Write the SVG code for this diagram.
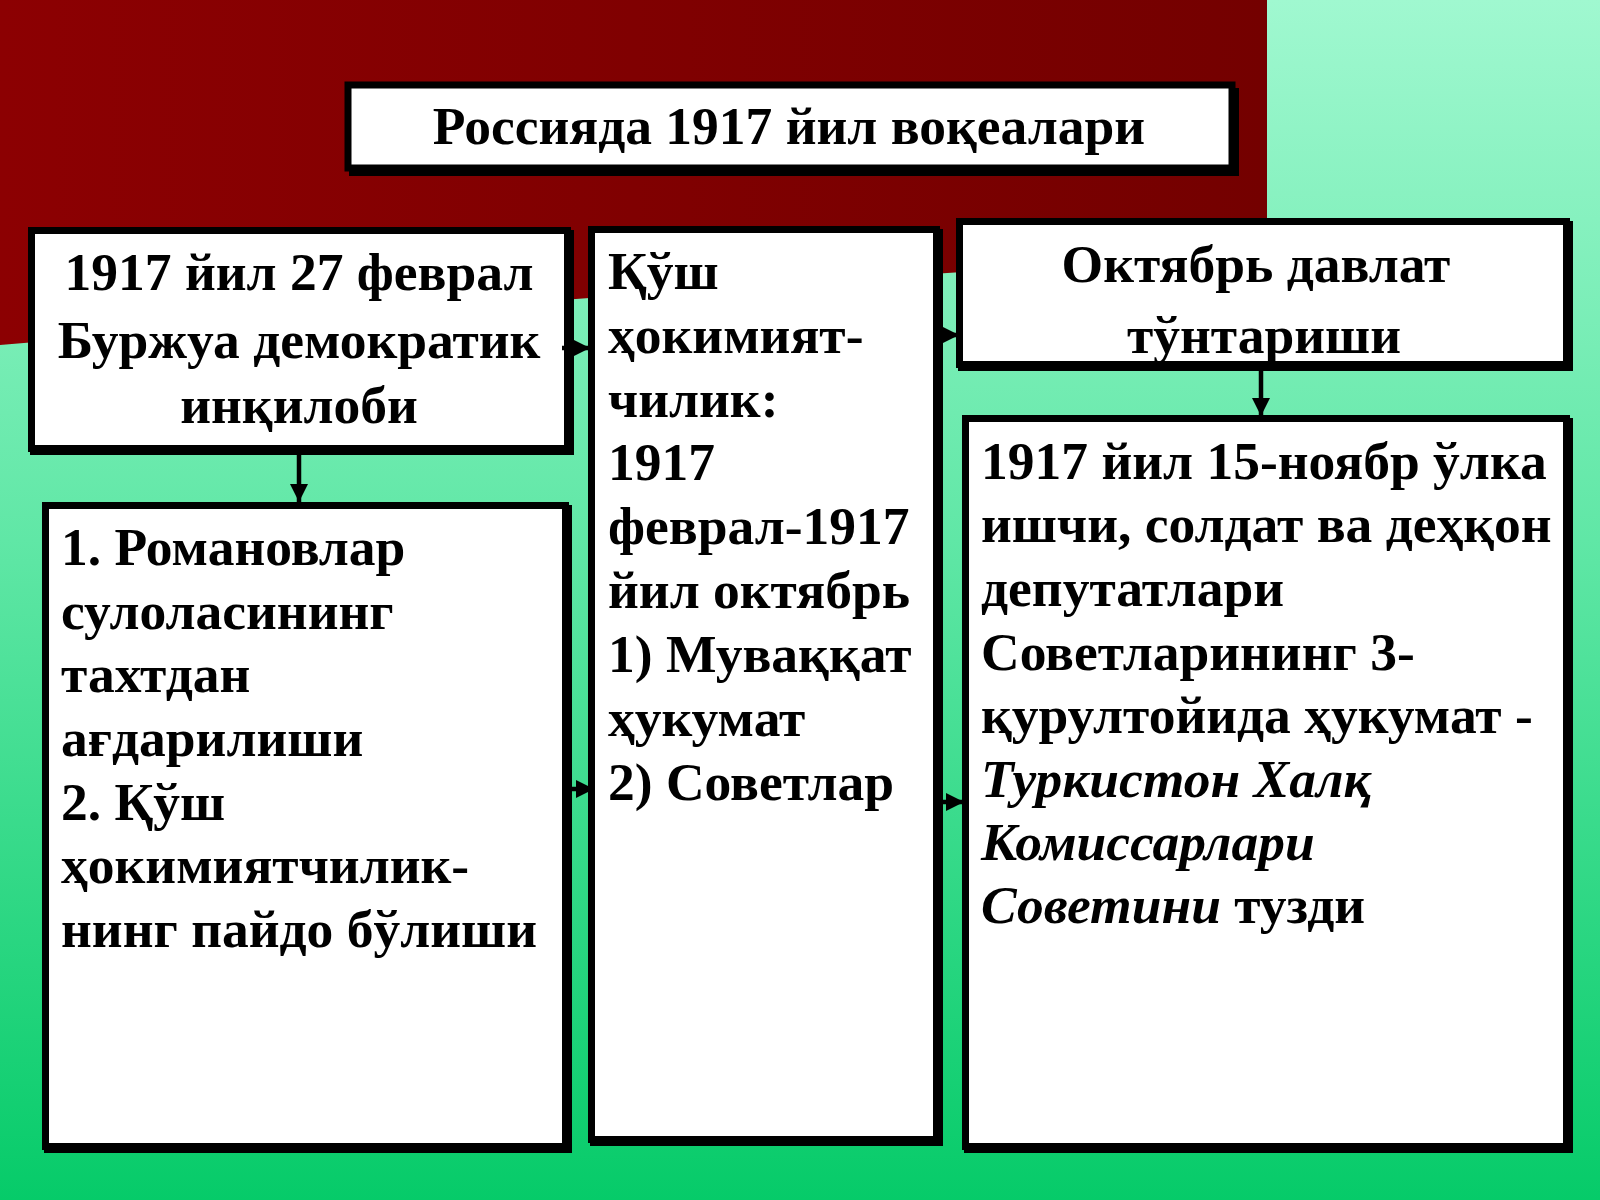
<svg xmlns="http://www.w3.org/2000/svg" width="1600" height="1200" viewBox="0 0 1600 1200">
<defs>
<linearGradient id="bg" x1="0" y1="0" x2="0" y2="1">
<stop offset="0" stop-color="#a0f8d0"/>
<stop offset="0.45" stop-color="#60e7a6"/>
<stop offset="1" stop-color="#06cb69"/>
</linearGradient>
<linearGradient id="red" x1="0" y1="0" x2="1" y2="0">
<stop offset="0" stop-color="#8c0002"/>
<stop offset="1" stop-color="#740000"/>
</linearGradient>
<marker id="ah" viewBox="0 0 10 10" refX="10" refY="5" markerWidth="4" markerHeight="4" orient="auto" markerUnits="strokeWidth">
<path d="M0,0 L10,5 L0,10 Z" fill="#000"/>
</marker>
<style>
.box{fill:#fff;stroke:#000;stroke-width:7}
.sh{fill:#000}
.t{font-family:"Liberation Serif","Times New Roman",serif;font-weight:bold;font-size:53.5px;fill:#000}
.c{text-anchor:middle}
.i{font-style:italic}
.cn{stroke:#000;stroke-width:4.5;fill:none;marker-end:url(#ah)}
</style>
</defs>
<rect x="0" y="0" width="1600" height="1200" fill="url(#bg)"/>
<path d="M0,0 H1267 V254 Q700,285 0,345 Z" fill="url(#red)"/>

<g id="title">
<rect class="sh" x="349" y="88" width="890" height="88"/>
<rect class="box" x="348" y="85" width="884" height="83" stroke-width="6"/>
<text class="t c" x="789" y="144" font-size="55">Россияда 1917 йил воқеалари</text>
</g>

<g id="b1">
<rect class="sh" x="30" y="230" width="544" height="225"/>
<rect class="box" x="31.5" y="230.5" width="536" height="218"/>
<text class="t c" x="299" y="290">1917 йил 27 феврал</text>
<text class="t c" x="299" y="358">Буржуа демократик</text>
<text class="t c" x="299" y="423">инқилоби</text>
</g>

<g id="b2">
<rect class="sh" x="44" y="505" width="528" height="648"/>
<rect class="box" x="45.5" y="505.5" width="520" height="641"/>
<text class="t" x="61" y="565">1. Романовлар</text>
<text class="t" x="61" y="629">сулоласининг</text>
<text class="t" x="61" y="692">тахтдан</text>
<text class="t" x="61" y="756">ағдарилиши</text>
<text class="t" x="61" y="820">2. Қўш</text>
<text class="t" x="61" y="883">ҳокимиятчилик-</text>
<text class="t" x="61" y="947">нинг пайдо бўлиши</text>
</g>

<g id="b3">
<rect class="sh" x="590" y="229" width="353" height="917"/>
<rect class="box" x="591.5" y="229.5" width="345" height="910"/>
<text class="t" x="608" y="289">Қўш</text>
<text class="t" x="608" y="353">ҳокимият-</text>
<text class="t" x="608" y="417">чилик:</text>
<text class="t" x="608" y="480">1917</text>
<text class="t" x="608" y="544">феврал-1917</text>
<text class="t" x="608" y="608">йил октябрь</text>
<text class="t" x="608" y="672">1) Муваққат</text>
<text class="t" x="608" y="736">ҳукумат</text>
<text class="t" x="608" y="800">2) Советлар</text>
</g>

<g id="b4">
<rect class="sh" x="958" y="221" width="615" height="150"/>
<rect class="box" x="959.5" y="221.5" width="607" height="143"/>
<text class="t c" x="1256" y="282">Октябрь давлат</text>
<text class="t c" x="1264" y="353">тўнтариши</text>
</g>

<g id="b5">
<rect class="sh" x="964" y="418" width="609" height="735"/>
<rect class="box" x="965.5" y="418.5" width="601" height="728"/>
<text class="t" x="981" y="479">1917 йил 15-ноябр ўлка</text>
<text class="t" x="981" y="542">ишчи, солдат ва деҳқон</text>
<text class="t" x="981" y="606">депутатлари</text>
<text class="t" x="981" y="670">Советларининг 3-</text>
<text class="t" x="981" y="733">қурултойида ҳукумат -</text>
<text class="t i" x="981" y="797">Туркистон Халқ</text>
<text class="t i" x="981" y="860">Комиссарлари</text>
<text class="t" x="981" y="923"><tspan class="i">Советини</tspan> тузди</text>
</g>

<g id="connectors">
<line class="cn" x1="299" y1="448" x2="299" y2="502"/>
<line class="cn" x1="562" y1="348" x2="590" y2="348"/>
<line class="cn" x1="937" y1="335" x2="959" y2="335"/>
<line class="cn" x1="1261" y1="365" x2="1261" y2="416"/>
<line class="cn" x1="568" y1="789" x2="594" y2="789"/>
<line class="cn" x1="939" y1="802" x2="964" y2="802"/>
</g>
</svg>
